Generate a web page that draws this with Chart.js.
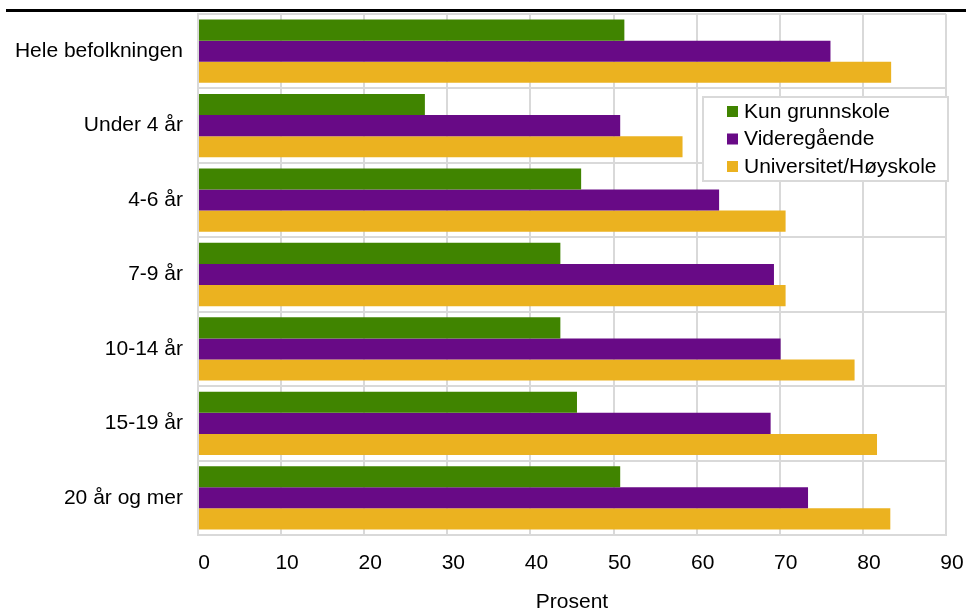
<!DOCTYPE html>
<html>
<head>
<meta charset="utf-8">
<script src="https://cdn.jsdelivr.net/npm/chart.js@4"></script>
<style>
    body { margin: 0; background: #fff; }
    #wrap { position: relative; width: 966px; height: 610px; }
    #topline { position: absolute; left: 6px; top: 9px; width: 960px; height: 3px; background: #000; }
</style>
</head>
<body>
<div id="wrap">
    <canvas id="barChart" width="966" height="610"></canvas>
    <div id="topline"></div>
</div>
<script>
// Data
var groups = ['Hele befolkningen', 'Under 4 år', '4-6 år', '7-9 år', '10-14 år', '15-19 år', '20 år og mer'];
var seriesNames = ['Kun grunnskole', 'Videregående', 'Universitet/Høyskole'];
var grunnskole = [51.3, 27.3, 46.1, 43.6, 43.6, 45.6, 50.8];
var videregaende = [76.1, 50.8, 62.7, 69.3, 70.1, 68.9, 73.4];
var universitet = [83.4, 58.3, 70.7, 70.7, 79.0, 81.7, 83.3];
var xTicks = [0, 10, 20, 30, 40, 50, 60, 70, 80, 90];
var colors = ['#408400', '#680a86', '#ebb220'];

var font = 'Arial, "Liberation Sans", sans-serif';
var gridGray = '#d9d9d9';

// legend drawn inside the plot area, top right
var insideLegend = {
    id: 'insideLegend',
    afterDraw: function (chart) {
        var ctx = chart.ctx;
        var x = 703, y = 97, w = 245, h = 84;
        ctx.save();
        ctx.fillStyle = '#fff';
        ctx.fillRect(x, y, w, h);
        ctx.strokeStyle = gridGray;
        ctx.lineWidth = 2;
        ctx.strokeRect(x, y, w, h);
        ctx.font = '21px ' + font;
        ctx.textBaseline = 'middle';
        chart.data.datasets.forEach(function (ds, i) {
            var cy = y + 14 + i * 27.5;
            ctx.fillStyle = ds.backgroundColor;
            ctx.fillRect(x + 24, cy - 5, 11, 11);
            ctx.fillStyle = '#000';
            ctx.fillText(ds.label, x + 41, cy + 1);
        });
        ctx.restore();
    }
};

var ctx = document.getElementById('barChart').getContext('2d');
var chart = new Chart(ctx, {
    type: 'bar',
    data: {
        labels: groups,
        datasets: [
            { label: seriesNames[0], data: grunnskole, backgroundColor: colors[0] },
            { label: seriesNames[1], data: videregaende, backgroundColor: colors[1] },
            { label: seriesNames[2], data: universitet, backgroundColor: colors[2] }
        ]
    },
    options: {
        indexAxis: 'y',
        responsive: false,
        animation: false,
        devicePixelRatio: 1,
        layout: { padding: { left: 0, right: 20, top: 14, bottom: 0 } },
        datasets: {
            bar: { categoryPercentage: 0.85, barPercentage: 1.0 }
        },
        plugins: {
            legend: { display: false },
            tooltip: { enabled: false }
        },
        scales: {
            x: {
                min: 0,
                max: 90,
                afterBuildTicks: function (scale) {
                    scale.ticks = xTicks.map(function (v) { return { value: v }; });
                },
                afterFit: function (scale) {
                    scale.height = 75;
                    scale.paddingLeft = 0;
                    scale.paddingRight = 0;
                },
                grid: { color: gridGray, lineWidth: 2, drawTicks: false },
                border: { color: gridGray, width: 2 },
                ticks: {
                    color: '#000',
                    font: { family: font, size: 21 },
                    padding: 16,
                    labelOffset: 6
                },
                title: {
                    display: true,
                    text: 'Prosent',
                    color: '#000',
                    font: { family: font, size: 21, lineHeight: 0.9 },
                    padding: { top: 0, bottom: -2 }
                }
            },
            y: {
                afterFit: function (scale) {
                    scale.width = 198;
                    scale.paddingTop = 0;
                    scale.paddingBottom = 0;
                },
                grid: { color: gridGray, lineWidth: 2, drawTicks: false, offset: true },
                border: { color: gridGray, width: 2 },
                ticks: {
                    color: '#000',
                    font: { family: font, size: 21 },
                    padding: 15
                }
            }
        }
    },
    plugins: [insideLegend]
});
</script>
</body>
</html>
